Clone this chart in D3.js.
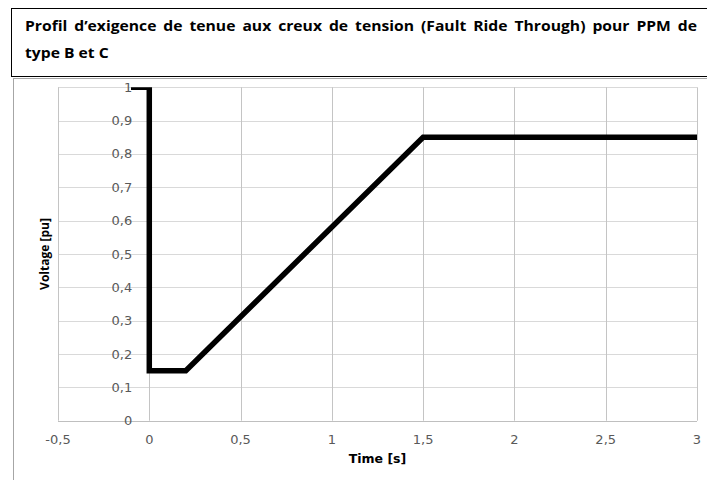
<!DOCTYPE html>
<html>
<head>
<meta charset="utf-8">
<script src="https://cdn.jsdelivr.net/npm/d3@7"></script>
<style>
  body { margin: 0; background: #fff; }
  svg { display: block; }
</style>
</head>
<body>
<div class="chart"></div>
<script>
// FRT profile
const timeS = [-0.1, 0, 0, 0.2, 1.5, 3];
const voltagePu = [1, 1, 0.15, 0.15, 0.85, 0.85];

const xTicks = [-0.5, 0, 0.5, 1, 1.5, 2, 2.5, 3];
const yTicks = [0, 0.1, 0.2, 0.3, 0.4, 0.5, 0.6, 0.7, 0.8, 0.9, 1];

const titleLine1 = "Profil d’exigence de tenue aux creux de tension (Fault Ride Through) pour PPM de";
const titleLine2 = "type B et C";
const xTitle = "Time [s]";
const yTitle = "Voltage [pu]";

const width = 707;
const height = 480;
const plot = {left: 58, right: 697, top: 87.3, bottom: 420.7};

const fmt = (v) => String(v).replace(".", ",");

const svg = d3.select("div.chart").append("svg")
  .attr("width", width)
  .attr("height", height);

// frames
svg.append("rect")
  .attr("x", 13.5).attr("y", 78.5)
  .attr("width", 720).attr("height", 420)
  .attr("fill", "none").attr("stroke", "#a6a6a6");
svg.append("rect")
  .attr("x", 11.5).attr("y", 8.5)
  .attr("width", 720).attr("height", 68)
  .attr("fill", "none").attr("stroke", "#000");

// title: the picture is a bit stretched sideways, so scale the text group
const titleFont = "bold 14px 'Open Sans'";
const sx = 1.12;
const x0 = 25, x1 = 697;
const title = svg.append("g")
  .attr("transform", `translate(${x0},0) scale(${sx},1)`);
const words = titleLine1.split(" ");
const wordNodes = words.map((w) => title.append("text")
  .attr("y", 31)
  .style("font", titleFont)
  .attr("fill", "#000")
  .text(w));
const lens = wordNodes.map((n) => n.node().getComputedTextLength());
const gap = Math.max(4, ((x1 - x0) / sx - d3.sum(lens)) / (words.length - 1));
let cx = 0;
wordNodes.forEach((n, i) => {
  n.attr("x", cx);
  cx += lens[i] + gap;
});
title.append("text")
  .attr("x", 0).attr("y", 58)
  .style("font", titleFont)
  .attr("fill", "#000")
  .text(titleLine2);

const xScale = d3.scaleLinear().domain([-0.5, 3]).range([plot.left, plot.right]);
const yScale = d3.scaleLinear().domain([0, 1]).range([plot.bottom, plot.top]);

// grid
svg.append("g").selectAll("line")
  .data(yTicks.filter((d) => d > 0))
  .enter().append("line")
  .attr("x1", plot.left).attr("x2", plot.right)
  .attr("y1", (d) => Math.round(yScale(d)) + 0.5)
  .attr("y2", (d) => Math.round(yScale(d)) + 0.5)
  .attr("stroke", "#d9d9d9");
svg.append("g").selectAll("line")
  .data(xTicks)
  .enter().append("line")
  .attr("y1", plot.top).attr("y2", plot.bottom)
  .attr("x1", (d) => Math.round(xScale(d)) + 0.5)
  .attr("x2", (d) => Math.round(xScale(d)) + 0.5)
  .attr("stroke", "#c4c4c4");
// x axis line
svg.append("line")
  .attr("x1", plot.left).attr("x2", plot.right)
  .attr("y1", Math.round(yScale(0)) + 0.5).attr("y2", Math.round(yScale(0)) + 0.5)
  .attr("stroke", "#bfbfbf");

// y labels sit beside the axis at x = 0
svg.append("g").selectAll("text")
  .data(yTicks)
  .enter().append("text")
  .attr("x", xScale(0) - 17)
  .attr("y", (d) => yScale(d) + 4.5)
  .attr("text-anchor", "end")
  .style("font", "13px 'DejaVu Sans'")
  .attr("fill", "#595959")
  .text(fmt);

svg.append("g").selectAll("text")
  .data(xTicks)
  .enter().append("text")
  .attr("x", (d) => xScale(d))
  .attr("y", 444)
  .attr("text-anchor", "middle")
  .style("font", "13px 'DejaVu Sans'")
  .attr("fill", "#595959")
  .text(fmt);

svg.append("text")
  .attr("x", (plot.left + plot.right) / 2)
  .attr("y", 463)
  .attr("text-anchor", "middle")
  .style("font", "bold 12.5px 'DejaVu Sans'")
  .attr("fill", "#000")
  .text(xTitle);
svg.append("text")
  .attr("transform", "translate(49, 254) rotate(-90)")
  .attr("text-anchor", "middle")
  .style("font", "bold 12px 'Open Sans'")
  .attr("fill", "#000")
  .text(yTitle);

// profile
svg.append("clipPath").attr("id", "plotclip")
  .append("rect")
  .attr("x", plot.left).attr("y", plot.top)
  .attr("width", plot.right - plot.left).attr("height", plot.bottom - plot.top);

const line = d3.line()
  .x((d, i) => xScale(timeS[i]))
  .y((d) => yScale(d));

svg.append("path")
  .datum(voltagePu)
  .attr("clip-path", "url(#plotclip)")
  .attr("d", line)
  .attr("fill", "none")
  .attr("stroke", "#000")
  .attr("stroke-width", 5.5)
  .attr("stroke-linejoin", "miter");
</script>
</body>
</html>
